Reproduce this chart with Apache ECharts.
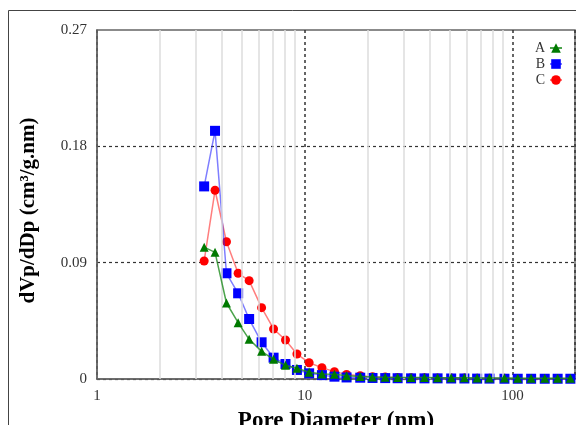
<!DOCTYPE html>
<html>
<head>
<meta charset="utf-8">
<script src="https://cdn.jsdelivr.net/npm/echarts@6/dist/echarts.min.js"></script>
<style>
  html, body { margin: 0; padding: 0; background: #fff; }
  #chart { width: 576px; height: 425px; }
</style>
</head>
<body>
<div id="chart"></div>
<script>
// pore diameter (nm), shared by all three samples
var poreSize = [3.28, 3.70, 4.20, 4.78, 5.40, 6.20, 7.08, 8.08, 9.17, 10.5, 12.1, 13.9,
  15.9, 18.5, 21.2, 24.4, 28.0, 32.5, 37.7, 43.6, 50.7, 58.7, 67.6, 77.5, 91.5,
  106, 123, 143, 165, 190];

var sampleA = [0.102, 0.098, 0.0588, 0.0436, 0.0307, 0.0214, 0.0152, 0.0106, 0.0083, 0.0052, 0.0039, 0.0036,
  0.0025, 0.0020, 0.0015, 0.0013, 0.0012, 0.0011, 0.0011, 0.0010, 0.0010, 0.0009, 0.0008, 0.0007, 0.0007,
  0.0006, 0.0006, 0.0006, 0.0005, 0.0005];
var sampleB = [0.149, 0.192, 0.0818, 0.0663, 0.0464, 0.0284, 0.0165, 0.0116, 0.0070, 0.0044, 0.0030, 0.0018,
  0.0012, 0.0010, 0.0008, 0.0007, 0.0006, 0.0005, 0.0005, 0.0005, 0.0004, 0.0004, 0.0003, 0.0003, 0.0002,
  0.0002, 0.0002, 0.0002, 0.0002, 0.0002];
var sampleC = [0.0913, 0.146, 0.1062, 0.0818, 0.0761, 0.0552, 0.0387, 0.0302, 0.0193, 0.0126, 0.0088, 0.0057,
  0.0035, 0.0025, 0.0018, 0.0015, 0.0012, 0.0010, 0.0009, 0.0008, 0.0008, 0.0007, 0.0006, 0.0005, 0.0005,
  0.0004, 0.0004, 0.0003, 0.0003, 0.0003];

// light vertical grid lines between the decades
var minorX = [2, 3, 4, 5, 6, 7, 8, 9, 20, 30, 40, 50, 60, 70, 80, 90];
var yTicks = ['0', '0.09', '0.18', '0.27'];

function pairs(ys) {
  return ys.map(function (y, i) { return [poreSize[i], y]; });
}

var serif = '"Liberation Serif", "Times New Roman", serif';
var myChart = echarts.init(document.getElementById('chart'));

myChart.setOption({
  animation: false,
  graphic: [{
    type: 'rect',
    shape: { x: 8.5, y: 10.5, width: 600, height: 500 },
    style: { fill: 'none', stroke: '#444', lineWidth: 1 },
    silent: true
  }],
  grid: {
    left: 97, top: 30, right: 1, bottom: 46,
    outerBoundsMode: 'none',
    containLabel: false,
    show: true, borderColor: '#666', borderWidth: 1.5
  },
  legend: {
    data: ['A', 'B', 'C'],
    orient: 'vertical',
    right: 8, top: 36,
    align: 'right',
    itemWidth: 12, itemHeight: 12,
    itemGap: 2,
    textStyle: { fontFamily: serif, fontSize: 14, color: '#333' }
  },
  xAxis: {
    type: 'log',
    logBase: 10,
    min: 1, max: 200,
    name: 'Pore Diameter (nm)',
    nameLocation: 'middle',
    nameGap: 31,
    nameTextStyle: { fontFamily: serif, fontSize: 23, fontWeight: 'bold', color: '#000' },
    axisLine: { lineStyle: { color: '#666', width: 1.5 } },
    axisTick: { show: false },
    axisLabel: { fontFamily: serif, fontSize: 15, color: '#333', margin: 10, showMaxLabel: false },
    splitLine: { show: true, lineStyle: { color: '#333', type: [3, 3], width: 1.5 } }
  },
  yAxis: {
    type: 'value',
    min: 0, max: 0.27, interval: 0.09,
    name: 'dVp/dDp (cm³/g.nm)',
    nameLocation: 'middle',
    nameGap: 58,
    nameTextStyle: {
      fontFamily: serif, fontSize: 21, fontWeight: 'bold', color: '#000',
      padding: [0, 12, 0, 0]
    },
    axisLine: { show: true, lineStyle: { color: '#666', width: 1.5 } },
    axisTick: { show: false },
    axisLabel: {
      fontFamily: serif, fontSize: 15, color: '#333', margin: 10,
      formatter: function (v, i) { return yTicks[i]; }
    },
    splitLine: { show: true, showMaxLine: false, lineStyle: { color: '#333', type: [3, 3], width: 1.2 } }
  },
  series: [
    {
      name: 'grid',
      type: 'line',
      data: [],
      silent: true,
      z: 1,
      markLine: {
        silent: true,
        symbol: 'none',
        label: { show: false },
        lineStyle: { color: '#dcdcdc', type: 'solid', width: 1.5 },
        data: minorX.map(function (v) { return { xAxis: v }; })
      }
    },
    {
      name: 'C',
      type: 'line',
      data: pairs(sampleC),
      symbol: 'circle',
      symbolSize: 9,
      itemStyle: { color: '#ff0000' },
      lineStyle: { color: 'rgba(255,40,40,0.6)', width: 1.5 },
      z: 3
    },
    {
      name: 'B',
      type: 'line',
      data: pairs(sampleB),
      symbol: 'rect',
      symbolSize: 10,
      itemStyle: { color: '#0000ff' },
      lineStyle: { color: 'rgba(40,40,255,0.6)', width: 1.5 },
      z: 4
    },
    {
      name: 'A',
      type: 'line',
      data: pairs(sampleA),
      symbol: 'triangle',
      symbolSize: 9,
      itemStyle: { color: '#007a00' },
      lineStyle: { color: 'rgba(30,140,30,0.8)', width: 1.5 },
      z: 5
    }
  ]
});
</script>
</body>
</html>
